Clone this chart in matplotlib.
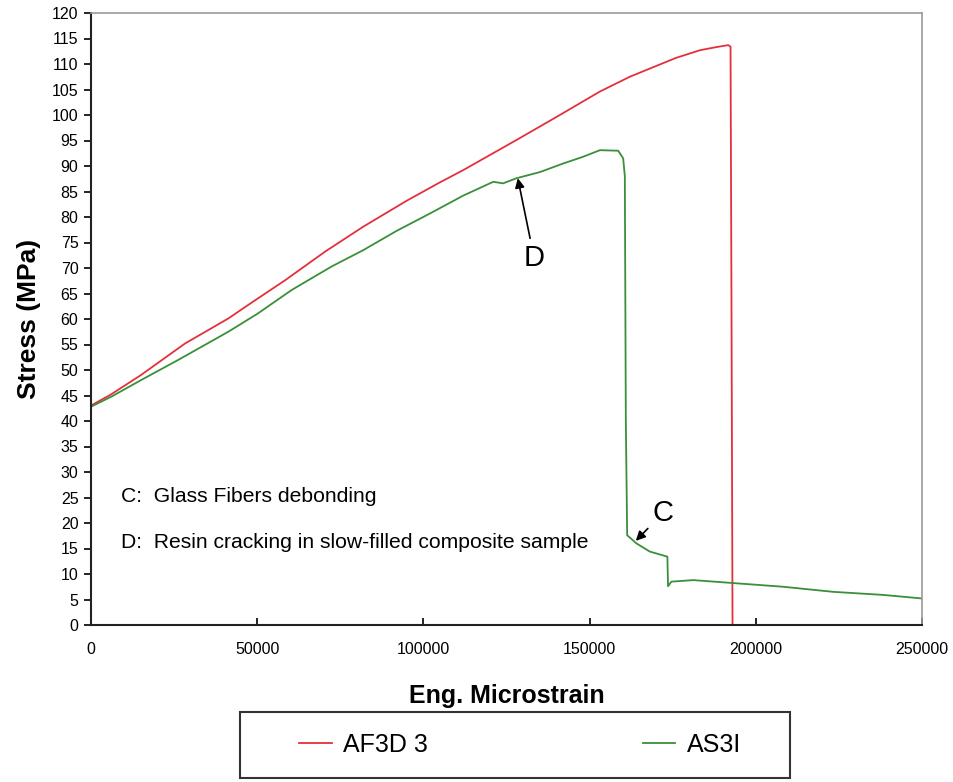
import matplotlib
matplotlib.use('Agg')
import matplotlib.pyplot as plt
from matplotlib.patches import Rectangle

plt.rcParams['font.family'] = ['Liberation Sans', 'DejaVu Sans']

# stress-strain data
af3d_strain = [0, 200, 6000, 15000, 28300, 41300, 48300, 58400, 70400, 81900, 95000,
               105000, 112000, 128000, 140000, 153100, 162100, 168100, 176000, 183200,
               188000, 191700, 192400, 192700, 193000]
af3d_stress = [42.8, 43.1, 45.2, 49.0, 55.2, 60.1, 63.2, 67.6, 73.2, 78.1, 83.2,
               86.8, 89.2, 95.1, 99.6, 104.6, 107.5, 109.1, 111.2, 112.7,
               113.3, 113.7, 113.4, 60.0, 0.0]

as3i_strain = [0, 6200, 15000, 26300, 41300, 50000, 60400, 72400, 81900, 92000, 102000,
               112000, 121000, 124000, 128000, 135000, 142100, 148000, 153100, 158600,
               160100, 160600, 160900, 161300, 164100, 168100, 173400, 173600, 174600,
               181200, 193700, 208200, 223300, 238300, 250000]
as3i_stress = [42.8, 44.8, 48.0, 52.0, 57.5, 61.0, 65.7, 70.3, 73.5, 77.3, 80.7,
               84.2, 86.9, 86.6, 87.6, 88.8, 90.5, 91.8, 93.1, 93.0,
               91.5, 88.0, 40.0, 17.6, 16.0, 14.4, 13.4, 7.6, 8.5,
               8.8, 8.2, 7.5, 6.5, 5.9, 5.2]

x_ticks = [0, 50000, 100000, 150000, 200000, 250000]
y_ticks = list(range(0, 121, 5))

fig = plt.figure(figsize=(9.54, 7.82), dpi=100)
ax = fig.add_axes([91 / 954, 157 / 782, 831 / 954, 612 / 782])

ax.plot(af3d_strain, af3d_stress, color='#e3303c', lw=1.3, label='AF3D 3')
ax.plot(as3i_strain, as3i_stress, color='#3a8f3a', lw=1.3, label='AS3I')

ax.set_xlim(0, 250000)
ax.set_ylim(0, 120)
ax.set_xticks(x_ticks)
ax.set_yticks(y_ticks)
ax.set_xticklabels([str(t) for t in x_ticks])
ax.tick_params(axis='y', direction='out', length=5, width=1.2, labelsize=11.5, pad=4)
ax.tick_params(axis='x', direction='in', length=5, width=1.2, labelsize=11.5, pad=12)

for side in ['left', 'bottom']:
    ax.spines[side].set_color('#222222')
    ax.spines[side].set_linewidth(1.5)
for side in ['top', 'right']:
    ax.spines[side].set_color('#999999')
    ax.spines[side].set_linewidth(1.2)

ax.set_xlabel('Eng. Microstrain', fontsize=18, fontweight='bold', labelpad=20)
ax.set_ylabel('Stress (MPa)', fontsize=19, fontweight='bold', labelpad=8)

# notes and arrows
ax.text(9000, 25.2, 'C:  Glass Fibers debonding', fontsize=15.2, va='center', ha='left')
ax.text(9000, 16.1, 'D:  Resin cracking in slow-filled composite sample', fontsize=15.2,
        va='center', ha='left')

arrow = dict(arrowstyle='-|>', color='black', lw=1.2, mutation_scale=14, shrinkA=2, shrinkB=0)
ax.annotate('D', xy=(128400, 87.6), xytext=(133300, 72.0), fontsize=21,
            ha='center', va='center', arrowprops=arrow)
ax.annotate('C', xy=(163900, 16.5), xytext=(172100, 22.0), fontsize=21,
            ha='center', va='center', arrowprops=arrow)

# legend box below the axes
box = Rectangle((240 / 954, 4 / 782), 550 / 954, 66 / 782, transform=fig.transFigure,
                fill=False, edgecolor='#333333', linewidth=1.5)
fig.patches.append(box)
fig.legend(loc='center', ncol=2, fontsize=18, bbox_to_anchor=(520 / 954, 37 / 782),
           frameon=False, handlelength=1.3, handletextpad=0.45, columnspacing=8.6)

plt.savefig('out.png', dpi=100)
